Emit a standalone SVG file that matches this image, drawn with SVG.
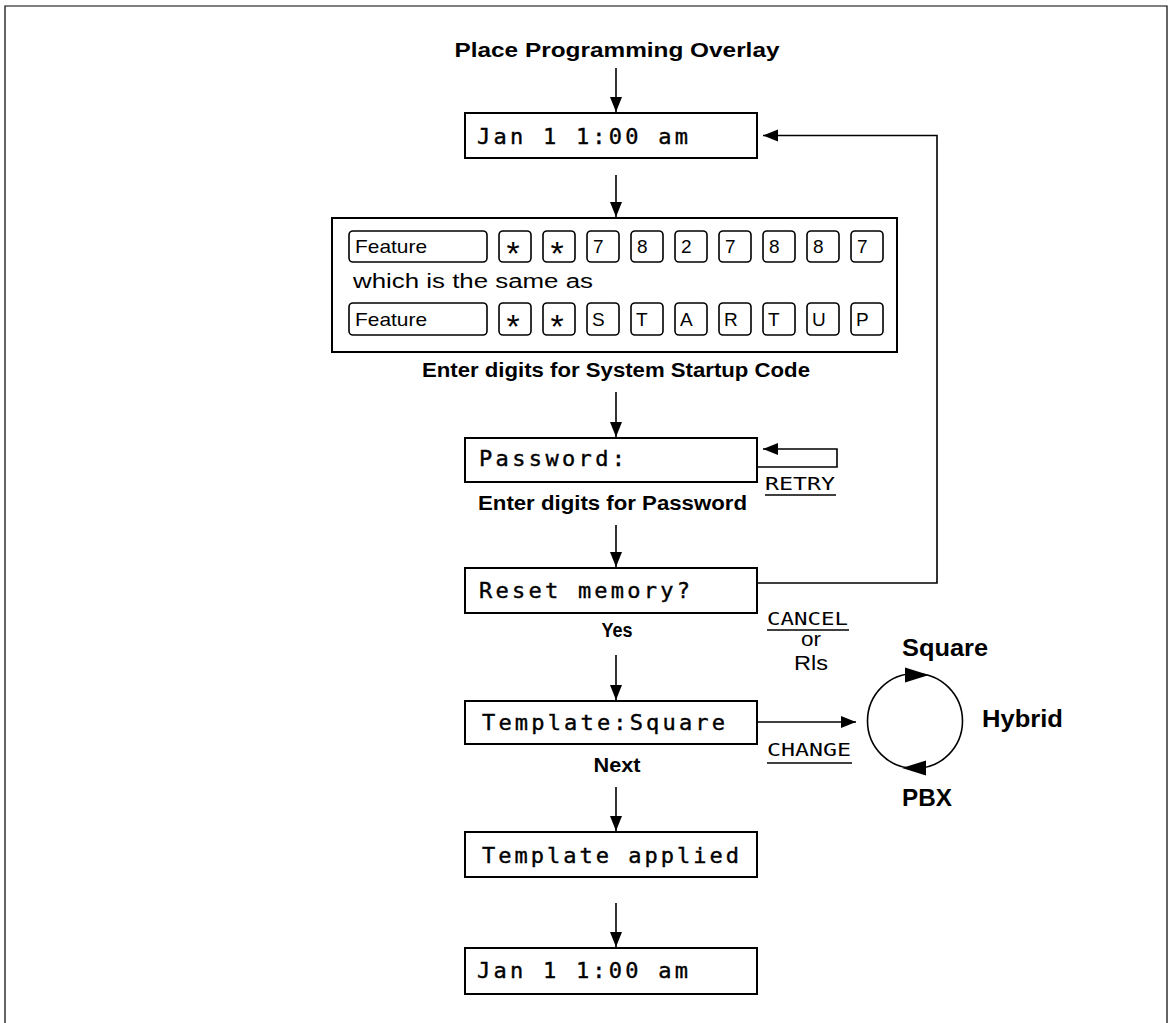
<svg xmlns="http://www.w3.org/2000/svg" width="1173" height="1023" viewBox="0 0 1173 1023">
<defs>
<style>
.frame{fill:none;stroke:#000;stroke-width:1.2}
.box{fill:#fff;stroke:#000;stroke-width:2}
.key{fill:#fff;stroke:#000;stroke-width:1.6}
.line{fill:none;stroke:#000;stroke-width:1.6}
.lcd{font-family:"DejaVu Sans Mono","Liberation Mono",monospace;font-size:22px;fill:#000;stroke:#000;stroke-width:0.4}
.soft{font-family:"DejaVu Sans Mono","Liberation Mono",monospace;font-size:18px;fill:#000}
.bold{font-family:"Liberation Sans",Arial,sans-serif;font-weight:bold;font-size:20px;fill:#000}
.big{font-family:"Liberation Sans",Arial,sans-serif;font-weight:bold;font-size:24px;fill:#000}
.reg{font-family:"Liberation Sans",Arial,sans-serif;font-size:19px;fill:#000}
.ast{font-family:"Liberation Sans",Arial,sans-serif;font-size:34px;fill:#000;text-anchor:middle}
.regbig{font-family:"Liberation Sans",Arial,sans-serif;font-size:20px;fill:#000}
</style>
<marker id="arr" markerUnits="userSpaceOnUse" markerWidth="16" markerHeight="14" refX="15" refY="6" orient="auto">
<path d="M0,0 L15,6 L0,12 Z" fill="#000"/>
</marker>
</defs>
<rect width="1173" height="1023" fill="#fff"/>
<path class="frame" d="M5,1023 V6 H1167 V1023"/>

<text class="bold" x="617" y="57" text-anchor="middle" textLength="325" lengthAdjust="spacingAndGlyphs">Place Programming Overlay</text>

<g id="connectors">
<line class="line" x1="616" y1="68" x2="616" y2="112" marker-end="url(#arr)"/>
<line class="line" x1="616" y1="175" x2="616" y2="217" marker-end="url(#arr)"/>
<line class="line" x1="616" y1="392" x2="616" y2="437" marker-end="url(#arr)"/>
<line class="line" x1="616" y1="525" x2="616" y2="567" marker-end="url(#arr)"/>
<line class="line" x1="616" y1="655" x2="616" y2="700" marker-end="url(#arr)"/>
<line class="line" x1="616" y1="787" x2="616" y2="831" marker-end="url(#arr)"/>
<line class="line" x1="616" y1="903" x2="616" y2="947" marker-end="url(#arr)"/>
<path class="line" d="M757,583 H937 V135.5 H763" marker-end="url(#arr)"/>
<path class="line" d="M757,467 H837 V449 H763" marker-end="url(#arr)"/>
<line class="line" x1="757" y1="722" x2="856" y2="722" marker-end="url(#arr)"/>
</g>

<g id="start">
<rect class="box" x="465" y="113" width="292" height="45"/>
<text class="lcd" x="477" y="144" textLength="211" lengthAdjust="spacing">Jan 1 1:00 am</text>
</g>

<g id="keys">
<rect class="box" x="332" y="218" width="565" height="134"/>
<rect class="key" x="349" y="231" width="138" height="31" rx="4"/>
<text class="reg" x="355" y="253" textLength="72" lengthAdjust="spacingAndGlyphs">Feature</text>
<rect class="key" x="499" y="231" width="32" height="31" rx="4"/>
<rect class="key" x="543" y="231" width="32" height="31" rx="4"/>
<rect class="key" x="587" y="231" width="32" height="31" rx="4"/>
<rect class="key" x="631" y="231" width="32" height="31" rx="4"/>
<rect class="key" x="675" y="231" width="32" height="31" rx="4"/>
<rect class="key" x="719" y="231" width="32" height="31" rx="4"/>
<rect class="key" x="763" y="231" width="32" height="31" rx="4"/>
<rect class="key" x="807" y="231" width="32" height="31" rx="4"/>
<rect class="key" x="851" y="231" width="32" height="31" rx="4"/>
<text class="ast" x="513" y="265">*</text>
<text class="ast" x="557" y="265">*</text>
<text class="reg" x="593" y="253">7</text>
<text class="reg" x="637" y="253">8</text>
<text class="reg" x="681" y="253">2</text>
<text class="reg" x="725" y="253">7</text>
<text class="reg" x="769" y="253">8</text>
<text class="reg" x="813" y="253">8</text>
<text class="reg" x="857" y="253">7</text>
<text class="regbig" x="353" y="288" font-size="23" textLength="240" lengthAdjust="spacingAndGlyphs">which is the same as</text>
<rect class="key" x="349" y="303" width="138" height="32" rx="4"/>
<text class="reg" x="355" y="326" textLength="72" lengthAdjust="spacingAndGlyphs">Feature</text>
<rect class="key" x="499" y="303" width="32" height="32" rx="4"/>
<rect class="key" x="543" y="303" width="32" height="32" rx="4"/>
<rect class="key" x="587" y="303" width="32" height="32" rx="4"/>
<rect class="key" x="631" y="303" width="32" height="32" rx="4"/>
<rect class="key" x="675" y="303" width="32" height="32" rx="4"/>
<rect class="key" x="719" y="303" width="32" height="32" rx="4"/>
<rect class="key" x="763" y="303" width="32" height="32" rx="4"/>
<rect class="key" x="807" y="303" width="32" height="32" rx="4"/>
<rect class="key" x="851" y="303" width="32" height="32" rx="4"/>
<text class="ast" x="513" y="338">*</text>
<text class="ast" x="557" y="338">*</text>
<text class="reg" x="592" y="326">S</text>
<text class="reg" x="636" y="326">T</text>
<text class="reg" x="680" y="326">A</text>
<text class="reg" x="724" y="326">R</text>
<text class="reg" x="768" y="326">T</text>
<text class="reg" x="812" y="326">U</text>
<text class="reg" x="856" y="326">P</text>
<text class="bold" x="422" y="377" textLength="388" lengthAdjust="spacingAndGlyphs">Enter digits for System Startup Code</text>
</g>

<g id="password">
<rect class="box" x="465" y="438" width="292" height="44"/>
<text class="lcd" x="479" y="466" textLength="146" lengthAdjust="spacing">Password:</text>
<text class="soft" x="765" y="490" textLength="70" lengthAdjust="spacingAndGlyphs">RETRY</text>
<line class="line" x1="765" y1="495" x2="836" y2="495"/>
<text class="bold" x="478" y="510" textLength="269" lengthAdjust="spacingAndGlyphs">Enter digits for Password</text>
</g>

<g id="reset">
<rect class="box" x="465" y="568" width="292" height="45"/>
<text class="lcd" x="479" y="598" textLength="211" lengthAdjust="spacing">Reset memory?</text>
<text class="bold" x="617" y="637" text-anchor="middle" textLength="31" lengthAdjust="spacingAndGlyphs">Yes</text>
<text class="soft" x="767" y="625" textLength="81" lengthAdjust="spacingAndGlyphs">CANCEL</text>
<line class="line" x1="767" y1="630" x2="849" y2="630"/>
<text class="regbig" x="811" y="646" text-anchor="middle" textLength="20" lengthAdjust="spacingAndGlyphs">or</text>
<text class="regbig" x="811" y="670" text-anchor="middle" textLength="34" lengthAdjust="spacingAndGlyphs">Rls</text>
</g>

<g id="template">
<rect class="box" x="465" y="701" width="292" height="43"/>
<text class="lcd" x="482" y="730" textLength="243" lengthAdjust="spacing">Template:Square</text>
<text class="soft" x="767" y="756" textLength="84" lengthAdjust="spacingAndGlyphs">CHANGE</text>
<line class="line" x1="767" y1="763" x2="852" y2="763"/>
<text class="bold" x="617" y="772" text-anchor="middle" textLength="47" lengthAdjust="spacingAndGlyphs">Next</text>
</g>

<g id="cycle">
<circle class="line" cx="915" cy="721" r="47.5"/>
<path d="M929,675 L905,667.5 L905,682.5 Z" fill="#000"/>
<path d="M902,768 L926,760.5 L926,775.5 Z" fill="#000"/>
<text class="big" x="945" y="656" text-anchor="middle" textLength="86" lengthAdjust="spacingAndGlyphs">Square</text>
<text class="big" x="982" y="727" textLength="81" lengthAdjust="spacingAndGlyphs">Hybrid</text>
<text class="big" x="902" y="806" textLength="50" lengthAdjust="spacingAndGlyphs">PBX</text>
</g>

<g id="applied">
<rect class="box" x="465" y="832" width="292" height="45"/>
<text class="lcd" x="482" y="863" textLength="257" lengthAdjust="spacing">Template applied</text>
</g>

<g id="end">
<rect class="box" x="465" y="948" width="292" height="46"/>
<text class="lcd" x="477" y="978" textLength="211" lengthAdjust="spacing">Jan 1 1:00 am</text>
</g>
</svg>
